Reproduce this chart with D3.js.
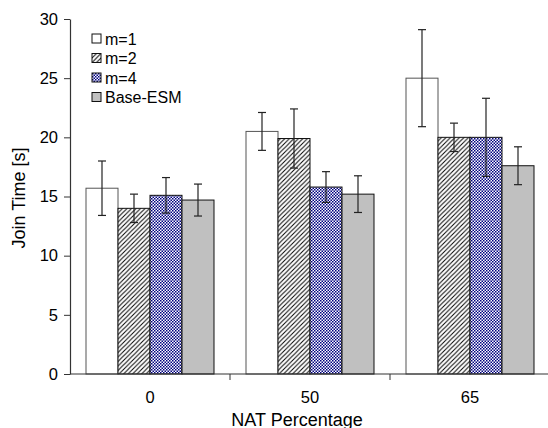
<!DOCTYPE html>
<html>
<head>
<meta charset="utf-8">
<script src="https://cdn.jsdelivr.net/npm/d3@7"></script>
<style>
  html, body { margin: 0; padding: 0; background: #fff; }
  svg { display: block; font-family: "Liberation Sans", Arial, sans-serif; }
</style>
</head>
<body>
<svg id="chart" width="548" height="428"></svg>
<script>
// Join time per NAT percentage, for each scheme
const categories = ["0", "50", "65"];
const seriesNames = ["m=1", "m=2", "m=4", "Base-ESM"];
const m1 = [15.7, 20.5, 25.0];
const m2 = [14.0, 19.9, 20.0];
const m4 = [15.1, 15.8, 20.0];
const baseESM = [14.7, 15.2, 17.6];
const m1Err = [2.3, 1.6, 4.1];
const m2Err = [1.2, 2.5, 1.2];
const m4Err = [1.5, 1.3, 3.3];
const baseErr = [1.35, 1.55, 1.6];
const yTicks = [0, 5, 10, 15, 20, 25, 30];

const values = [m1, m2, m4, baseESM];
const errors = [m1Err, m2Err, m4Err, baseErr];

const svg = d3.select("#chart");
const margin = { left: 70, right: -2, top: 19, bottom: 54 };
const W = 548, H = 428;

// patterns for bar fills
const defs = svg.append("defs");
const hatch = defs.append("pattern").attr("id", "hatch")
  .attr("patternUnits", "userSpaceOnUse").attr("width", 4.5).attr("height", 4.5);
hatch.append("rect").attr("width", 4.5).attr("height", 4.5).attr("fill", "#fff");
hatch.append("path").attr("d", "M-1,1 l2,-2 M0,4.5 l4.5,-4.5 M3.5,5.5 l2,-2")
  .attr("stroke", "#000").attr("stroke-width", 1);

const checker = defs.append("pattern").attr("id", "checker")
  .attr("patternUnits", "userSpaceOnUse").attr("width", 3).attr("height", 3);
checker.append("rect").attr("width", 3).attr("height", 3).attr("fill", "#fff");
checker.append("rect").attr("width", 1.5).attr("height", 1.5).attr("fill", "#000080");
checker.append("rect").attr("x", 1.5).attr("y", 1.5).attr("width", 1.5).attr("height", 1.5).attr("fill", "#000080");

const fills = ["#ffffff", "url(#hatch)", "url(#checker)", "#c0c0c0"];

const x0 = d3.scaleBand().domain(categories)
  .range([margin.left, W - margin.right]).paddingInner(0).paddingOuter(0);
const x1 = d3.scaleBand().domain(seriesNames)
  .range([0, x0.bandwidth()]).paddingOuter(0.5).paddingInner(0);
const y = d3.scaleLinear().domain([0, 30]).range([H - margin.bottom, margin.top]);

// bars
const groups = svg.append("g").selectAll("g").data(categories).join("g")
  .attr("transform", d => `translate(${x0(d)},0)`);

seriesNames.forEach((s, si) => {
  groups.append("rect")
    .attr("x", x1(s))
    .attr("y", (d, i) => y(values[si][i]))
    .attr("width", x1.bandwidth())
    .attr("height", (d, i) => y(0) - y(values[si][i]))
    .attr("fill", fills[si])
    .attr("stroke", si === 0 ? "#555" : "#111")
    .attr("stroke-width", 1);
});

// error bars
seriesNames.forEach((s, si) => {
  const cx = x1(s) + x1.bandwidth() / 2;
  const eb = groups.append("g").attr("stroke", "#222").attr("stroke-width", 1.2);
  eb.append("line").attr("x1", cx).attr("x2", cx)
    .attr("y1", (d, i) => y(values[si][i] + errors[si][i]))
    .attr("y2", (d, i) => y(values[si][i] - errors[si][i]));
  eb.append("line").attr("x1", cx - 4).attr("x2", cx + 4)
    .attr("y1", (d, i) => y(values[si][i] + errors[si][i]))
    .attr("y2", (d, i) => y(values[si][i] + errors[si][i]));
  eb.append("line").attr("x1", cx - 4).attr("x2", cx + 4)
    .attr("y1", (d, i) => y(values[si][i] - errors[si][i]))
    .attr("y2", (d, i) => y(values[si][i] - errors[si][i]));
});

// y axis
const yAxis = svg.append("g").attr("transform", `translate(${margin.left},0)`)
  .call(d3.axisLeft(y).tickValues(yTicks).tickSize(6).tickSizeOuter(0));
yAxis.select(".domain").attr("stroke", "#333").attr("stroke-width", 1.2);
yAxis.selectAll(".tick line").attr("stroke", "#333");
yAxis.selectAll(".tick text").attr("font-size", 16.5).attr("fill", "#000")
  .attr("font-family", "Liberation Sans, Arial, sans-serif").attr("dx", -3);

// x axis: ticks between categories
const xAxisG = svg.append("g").attr("transform", `translate(0,${y(0)})`);
xAxisG.append("line").attr("x1", margin.left).attr("x2", W)
  .attr("stroke", "#333").attr("stroke-width", 1.2);
xAxisG.selectAll("line.tk").data(categories.slice(1)).join("line").attr("class", "tk")
  .attr("x1", d => x0(d)).attr("x2", d => x0(d)).attr("y1", 0).attr("y2", 6)
  .attr("stroke", "#333");
xAxisG.selectAll("text").data(categories).join("text")
  .attr("x", d => x0(d) + x0.bandwidth() / 2).attr("y", 29)
  .attr("text-anchor", "middle").attr("font-size", 16.5).text(d => d);

// axis titles
svg.append("text").attr("x", 297).attr("y", 425.5).attr("text-anchor", "middle")
  .attr("font-size", 18).text("NAT Percentage");
svg.append("text").attr("transform", `translate(25,198) rotate(-90)`)
  .attr("text-anchor", "middle").attr("font-size", 18).text("Join Time [s]");

// legend
const legend = svg.append("g").attr("transform", "translate(92,34)");
seriesNames.forEach((s, i) => {
  const g = legend.append("g").attr("transform", `translate(0,${i * 19.5})`);
  g.append("rect").attr("width", 9).attr("height", 9)
    .attr("fill", fills[i]).attr("stroke", "#111").attr("stroke-width", 1);
  g.append("text").attr("x", 13).attr("y", 10.5).attr("font-size", 16).text(s);
});
</script>
</body>
</html>
